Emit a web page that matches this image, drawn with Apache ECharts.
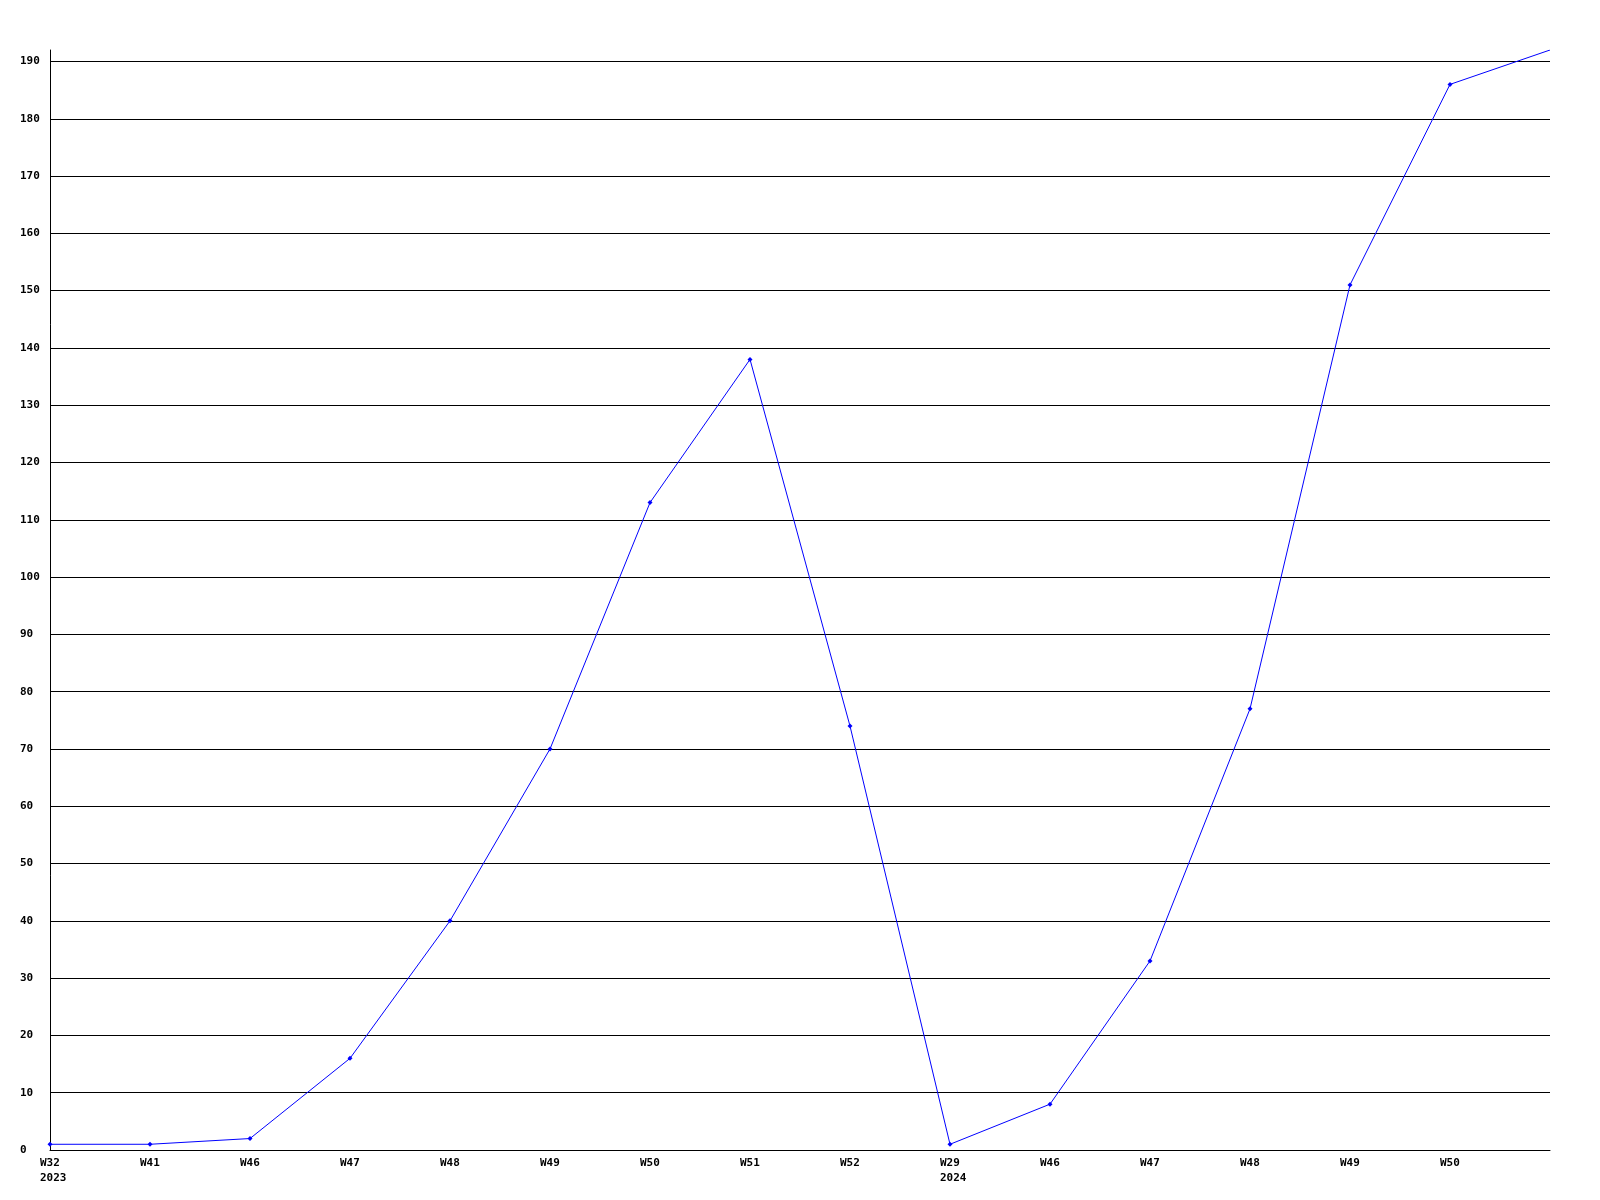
<!DOCTYPE html>
<html>
<head>
<meta charset="utf-8">
<script src="https://cdn.jsdelivr.net/npm/echarts@6/dist/echarts.min.js"></script>
<style>html,body{margin:0;padding:0;background:#fff}#c{width:1600px;height:1200px}</style>
</head>
<body>
<div id="c"></div>
<script>
var weeks = ['W32','W41','W46','W47','W48','W49','W50','W51','W52','W29','W46','W47','W48','W49','W50',''];
var years = ['2023','','','','','','','','','2024','','','','','',''];
var values = [1,1,2,16,40,70,113,138,74,1,8,33,77,151,186,192];
var yMin = 0, yMax = 192, yStep = 10;

var cats = weeks.map(function(w,i){ return i + '|' + w; });
var seriesData = values.map(function(v,i){
  return i === values.length - 1 ? {value:v, symbol:'none'} : v;
});
var chart = echarts.init(document.getElementById('c'), null, {renderer:'canvas'});
var font = 'DejaVu Sans Mono';
chart.setOption({
  animation:false,
  backgroundColor:'#ffffff',
  grid:{left:50,right:50,top:50,bottom:50,containLabel:false},
  xAxis:{
    type:'category', data:cats, boundaryGap:false,
    axisLine:{show:true,lineStyle:{color:'#000',width:1}},
    axisTick:{show:false},
    splitLine:{show:false},
    axisLabel:{
      interval:0, margin:6,
      formatter:function(v){
        var i = +v.split('|')[0];
        var s = '{a|' + weeks[i] + '}';
        if (years[i]) s += '\n{a|' + years[i] + '}';
        return s;
      },
      rich:{a:{width:20,align:'left',fontFamily:font,fontWeight:'bold',fontSize:11,color:'#000',lineHeight:15}}
    }
  },
  yAxis:{
    type:'value', min:yMin, max:yMax, interval:yStep,
    axisLine:{show:true,lineStyle:{color:'#000',width:1}},
    axisTick:{show:false},
    splitLine:{show:true,showMaxLine:false,lineStyle:{color:'#000',width:1}},
    axisLabel:{showMaxLabel:false,margin:30,align:'left',fontFamily:font,fontWeight:'bold',fontSize:11,color:'#000'}
  },
  series:[{
    type:'line', data:seriesData,
    lineStyle:{color:'#0000ff',width:1},
    itemStyle:{color:'#0000ff'},
    symbol:'diamond', symbolSize:5, showAllSymbol:true
  }]
});
</script>
</body>
</html>
